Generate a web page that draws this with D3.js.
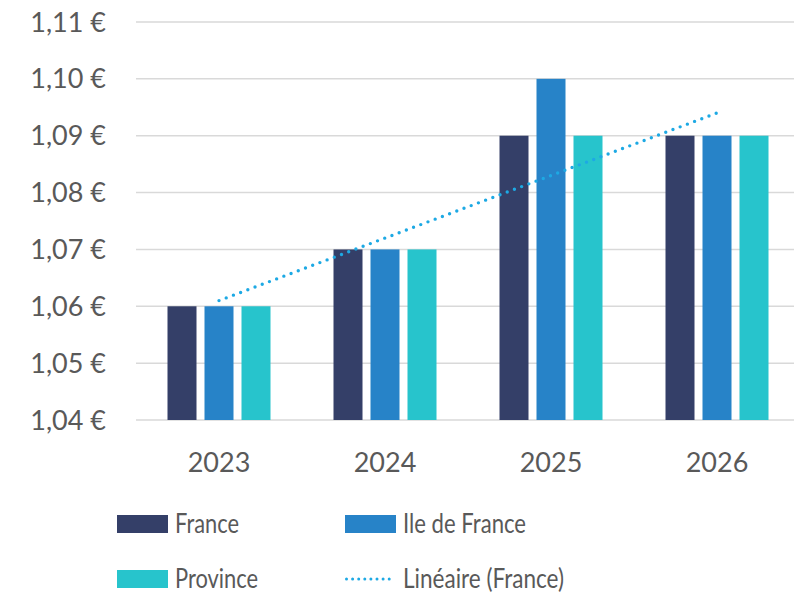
<!DOCTYPE html>
<html>
<head>
<meta charset="utf-8">
<script src="https://cdn.jsdelivr.net/npm/d3@7"></script>
<style>
  body { margin: 0; background: #fff; }
  text { font-family: Lato, "Open Sans", sans-serif; fill: #595959; }
</style>
</head>
<body>
<svg width="794" height="593"></svg>
<script>
const years = ["2023", "2024", "2025", "2026"];
const seriesNames = ["France", "Ile de France", "Province"];
const france = [1.06, 1.07, 1.09, 1.09];
const ileDeFrance = [1.06, 1.07, 1.10, 1.09];
const province = [1.06, 1.07, 1.09, 1.09];
const yTicks = [1.04, 1.05, 1.06, 1.07, 1.08, 1.09, 1.10, 1.11];
const colors = ["#343F68", "#2783C8", "#27C4CC"];
const trendColor = "#1DA9E4";

const svg = d3.select("svg");
const values = [france, ileDeFrance, province];

const xScale = d3.scaleBand().domain(years).range([136, 800]);
const yScale = d3.scaleLinear().domain([1.04, 1.11]).range([420, 22]);

const barW = 29;
const barStep = 37;

// grid lines
svg.append("g")
  .selectAll("line")
  .data(yTicks)
  .enter()
  .append("line")
  .attr("x1", 136)
  .attr("x2", 800)
  .attr("y1", (d) => yScale(d))
  .attr("y2", (d) => yScale(d))
  .attr("stroke", "#d9d9d9")
  .attr("stroke-width", 1.5);

// y labels
const fmt = (d) => d.toFixed(2).replace(".", ",") + " €";
svg.append("g")
  .selectAll("text")
  .data(yTicks)
  .enter()
  .append("text")
  .attr("x", 106)
  .attr("y", (d) => yScale(d) + 9.5)
  .attr("text-anchor", "end")
  .attr("font-size", 27)
  .text(fmt);

// bars
values.forEach((vals, i) => {
  svg.append("g")
    .selectAll("rect")
    .data(vals)
    .enter()
    .append("rect")
    .attr("x", (d, j) => xScale(years[j]) + xScale.bandwidth() / 2 + (i - 1) * barStep - barW / 2)
    .attr("y", (d) => yScale(d))
    .attr("width", barW)
    .attr("height", (d) => yScale(1.04) - yScale(d))
    .attr("fill", colors[i]);
});

// x labels
svg.append("g")
  .selectAll("text")
  .data(years)
  .enter()
  .append("text")
  .attr("x", (d) => xScale(d) + xScale.bandwidth() / 2)
  .attr("y", 472)
  .attr("text-anchor", "middle")
  .attr("font-size", 27)
  .text((d) => d);

// linear trend for France
const xs = france.map((d, i) => i + 1);
const mx = d3.mean(xs);
const my = d3.mean(france);
const slope = d3.sum(xs, (x, i) => (x - mx) * (france[i] - my)) / d3.sum(xs, (x) => (x - mx) ** 2);
const icpt = my - slope * mx;
const trend = years.map((y, i) => [xScale(y) + xScale.bandwidth() / 2, yScale(icpt + slope * (i + 1))]);

svg.append("path")
  .attr("d", d3.line()([trend[0], trend[trend.length - 1]]))
  .attr("fill", "none")
  .attr("stroke", trendColor)
  .attr("stroke-width", 3.4)
  .attr("stroke-linecap", "round")
  .attr("stroke-dasharray", "0 7.7");

// legend
const legend = [
  { name: seriesNames[0], x: 117, y: 515, w: 64, type: "rect", color: colors[0] },
  { name: seriesNames[1], x: 345, y: 515, w: 123, type: "rect", color: colors[1] },
  { name: seriesNames[2], x: 117, y: 570, w: 83, type: "rect", color: colors[2] },
  { name: "Linéaire (France)", x: 345, y: 570, w: 161, type: "line", color: trendColor },
];

const lg = svg.append("g")
  .selectAll("g")
  .data(legend)
  .enter()
  .append("g")
  .attr("transform", (d) => `translate(${d.x},${d.y})`);

lg.filter((d) => d.type === "rect")
  .append("rect")
  .attr("width", 51)
  .attr("height", 18)
  .attr("fill", (d) => d.color);

lg.filter((d) => d.type === "line")
  .append("line")
  .attr("x1", 1.5)
  .attr("x2", 50)
  .attr("y1", 9)
  .attr("y2", 9)
  .attr("stroke", (d) => d.color)
  .attr("stroke-width", 3)
  .attr("stroke-linecap", "round")
  .attr("stroke-dasharray", "0 6.1");

lg.append("text")
  .attr("x", 58)
  .attr("y", 18)
  .attr("font-size", 27)
  .attr("textLength", (d) => d.w)
  .attr("lengthAdjust", "spacingAndGlyphs")
  .text((d) => d.name);
</script>
</body>
</html>
